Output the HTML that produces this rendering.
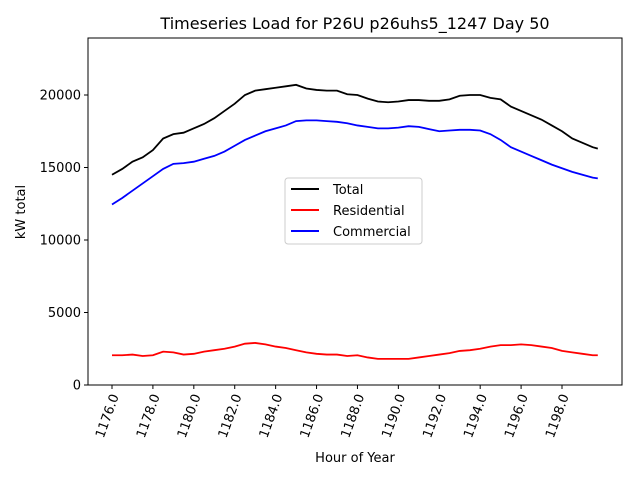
<!DOCTYPE html>
<html><head><meta charset="utf-8"><style>
body{margin:0;background:#fff;}
svg text{font-family:"DejaVu Sans","Liberation Sans",sans-serif;}
</style></head><body>
<svg id="chart" width="640" height="480" xmlns="http://www.w3.org/2000/svg">
<rect width="640" height="480" fill="#fff"/>
<text x="355" y="29" font-size="16" text-anchor="middle">Timeseries Load for P26U p26uhs5_1247  Day 50</text>
<g id="plot"></g>
<rect x="88" y="38" width="534" height="347" fill="none" stroke="#000" stroke-width="1"/>
<text transform="translate(25,212) rotate(-90)" font-size="13" text-anchor="middle">kW total</text>
<text x="355" y="462" font-size="13" text-anchor="middle">Hour of Year</text>
<g>
<rect x="285" y="178" width="137" height="66" rx="3" fill="#fff" fill-opacity="0.8" stroke="#ccc"/>
<line x1="291" y1="189" x2="319" y2="189" stroke="#000" stroke-width="2"/>
<text x="333" y="194" font-size="13">Total</text>
<line x1="291" y1="210" x2="319" y2="210" stroke="red" stroke-width="2"/>
<text x="333" y="215" font-size="13">Residential</text>
<line x1="291" y1="231" x2="319" y2="231" stroke="blue" stroke-width="2"/>
<text x="333" y="236" font-size="13">Commercial</text>
</g>
</svg>
<script>
const hours = [1176,1176.5,1177,1177.5,1178,1178.5,1179,1179.5,1180,1180.5,1181,1181.5,1182,1182.5,1183,1183.5,1184,1184.5,1185,1185.5,1186,1186.5,1187,1187.5,1188,1188.5,1189,1189.5,1190,1190.5,1191,1191.5,1192,1192.5,1193,1193.5,1194,1194.5,1195,1195.5,1196,1196.5,1197,1197.5,1198,1198.5,1199,1199.5,1199.75];
const totalKw = [14500,14900,15400,15700,16200,17000,17300,17400,17700,18000,18400,18900,19400,20000,20300,20400,20500,20600,20700,20450,20350,20300,20300,20050,20000,19750,19550,19500,19550,19650,19650,19600,19600,19700,19950,20000,20000,19800,19700,19200,18900,18600,18300,17900,17500,17000,16700,16400,16300];
const residentialKw = [2050,2050,2100,2000,2050,2300,2250,2100,2150,2300,2400,2500,2650,2850,2900,2800,2650,2550,2400,2250,2150,2100,2100,2000,2050,1900,1800,1800,1800,1800,1900,2000,2100,2200,2350,2400,2500,2650,2750,2750,2800,2750,2650,2550,2350,2250,2150,2050,2050];
const commercialKw = [12450,12900,13400,13900,14400,14900,15250,15300,15400,15600,15800,16100,16500,16900,17200,17500,17700,17900,18200,18250,18250,18200,18150,18050,17900,17800,17700,17700,17750,17850,17800,17650,17500,17550,17600,17600,17550,17300,16900,16400,16100,15800,15500,15200,14950,14700,14500,14300,14250];
const xTicks = [1176,1178,1180,1182,1184,1186,1188,1190,1192,1194,1196,1198];
const xTickLabels = ["1176.0","1178.0","1180.0","1182.0","1184.0","1186.0","1188.0","1190.0","1192.0","1194.0","1196.0","1198.0"];
const yTicks = [0,5000,10000,15000,20000];
const yTickLabels = ["0","5000","10000","15000","20000"];

const NS="http://www.w3.org/2000/svg";
const g=document.getElementById('plot');
const xs=h=>112+(h-1176)*(562-112)/22;
const ys=v=>385-v*(385-95)/20000;
function mk(t,a){const e=document.createElementNS(NS,t);for(const k in a)e.setAttribute(k,a[k]);g.appendChild(e);return e;}
xTicks.forEach((t,i)=>{
  const x=xs(t);
  const l=mk('line',{x1:x,y1:385,x2:x,y2:389,stroke:'#000'});
  
  
  const tx=mk('text',{x:0,y:0,'font-size':'13','text-anchor':'end',transform:`translate(${x+7},${396}) rotate(-70)`});
  tx.textContent=xTickLabels[i];
  
  
});
yTicks.forEach((t,i)=>{
  const y=ys(t);
  const l=mk('line',{x1:84,y1:y,x2:88,y2:y,stroke:'#000'});
  
  
  const tx=mk('text',{x:81,y:y+4.5,'font-size':'13','text-anchor':'end'});
  tx.textContent=yTickLabels[i];
  
  
});
function line(vals,color,name){
  const p=mk('polyline',{points:vals.map((v,i)=>xs(hours[i])+','+ys(v)).join(' '),fill:'none',stroke:color,'stroke-width':'1.8'});
  
  
}
line(totalKw,'#000','total-line');
line(residentialKw,'red','residential-line');
line(commercialKw,'blue','commercial-line');
</script>
</body></html>
